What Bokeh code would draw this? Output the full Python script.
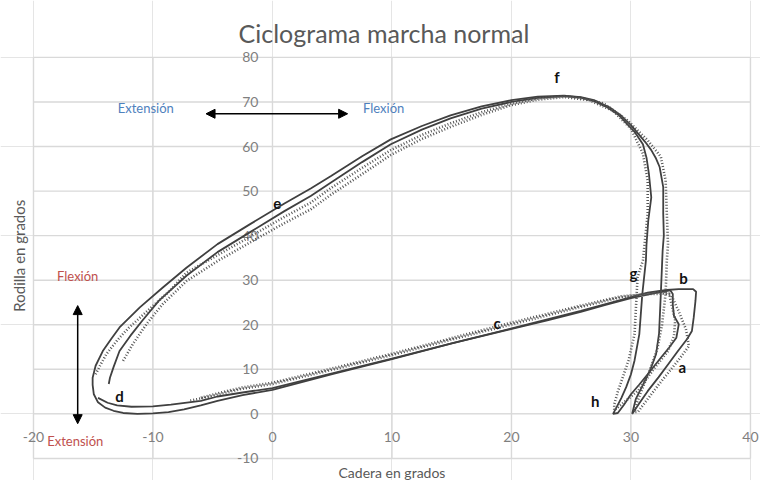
import math
from bokeh.plotting import figure
from bokeh.models import Arrow, NormalHead
from bokeh.core.properties import value
from bokeh.embed import file_html
from bokeh.resources import INLINE

# ---------------- data ----------------
title_text = "Ciclograma marcha normal"
x_label = "Cadera en grados"
y_label = "Rodilla en grados"

x_ticks = [-20, -10, 0, 10, 20, 30, 40]
y_ticks = [-10, 0, 10, 20, 30, 40, 50, 60, 70, 80]
x_tick_labels = ["-20", "-10", "0", "10", "20", "30", "40"]
y_tick_labels = ["-10", "0", "10", "20", "30", "40", "50", "60", "70", "80"]

# solid cycle 1 (outer)
cycle1_hip = [30.1, 30.7, 31.4, 32.3, 33.1, 33.9, 34.7, 35.1, 35.25, 35.4, 35.45, 35.2, 34.0, 33.0, 31.4,
              30.0, 27.8, 25.8, 23.0, 20.2, 15.0, 10.0, 5.0, 0.0, -2.5, -4.6, -6.0, -7.4, -8.7, -10.0,
              -11.3, -12.5, -13.3, -14.0, -14.6, -14.95, -15.05, -15.05, -14.8, -14.2, -13.5, -12.8,
              -11.1, -9.2, -7.2, -4.6, -1.8, 1.0, 3.2, 4.9, 7.5, 9.9, 12.5, 14.9, 17.5, 20.0, 22.2,
              24.4, 25.8, 26.9, 28.2, 29.2, 30.0, 30.6, 31.2, 31.7, 32.1, 32.4, 32.7, 32.7, 32.75,
              32.65, 32.5, 32.35, 32.1, 31.6, 31.0, 30.4, 30.1]
cycle1_knee = [0.0, 2.4, 5.1, 8.2, 11.1, 14.0, 16.8, 18.6, 21.6, 25.4, 27.4, 28.0, 28.0, 27.8, 27.2,
               26.2, 24.6, 23.1, 21.2, 19.3, 15.8, 12.3, 8.9, 5.4, 4.2, 2.9, 1.9, 1.0, 0.4, 0.1,
               0.0, 0.2, 0.7, 1.4, 2.6, 4.4, 6.5, 8.1, 10.8, 14.1, 16.8, 19.4,
               23.9, 28.3, 32.8, 38.1, 42.7, 47.2, 50.6, 53.4, 57.8, 61.6, 64.6, 67.0, 69.0, 70.4, 71.2,
               71.4, 71.1, 70.4, 68.8, 66.9, 64.8, 62.9, 61.0, 59.2, 57.3, 55.4, 50.9, 44.9, 40.0,
               36.6, 27.0, 18.0, 13.4, 9.8, 6.5, 3.3, 0.0]

# solid cycle 2 (inner)
cycle2_hip = [-13.7, -13.6, -13.3, -12.8, -11.9, -10.9, -9.5, -7.2, -4.6, -1.8, 1.0, 3.2, 4.9, 7.5, 9.9,
              12.5, 14.9, 17.5, 20.0, 22.2, 24.4, 25.8, 26.9, 28.0, 29.0, 30.3, 31.0, 31.3, 31.5, 31.7,
              31.45, 31.3, 31.25, 30.95, 30.7, 30.3, 30.0, 29.6, 29.2, 28.8, 28.5, 28.9, 29.4, 30.0,
              30.7, 31.4, 32.5, 33.2, 33.8, 34.0, 33.6, 33.5, 33.5, 33.3, 32.0, 30.0, 27.8, 25.8, 23.0,
              20.2, 15.0, 10.0, 5.0, 0.0, -2.5, -4.6, -6.0, -8.5, -10.0, -11.8, -13.0, -13.8, -14.6]
cycle2_knee = [6.7, 8.1, 10.5, 14.1, 17.5, 20.9, 25.4, 31.0, 36.3, 40.9, 45.5, 48.9, 51.9, 56.5, 60.5,
               63.8, 66.3, 68.5, 70.0, 70.9, 71.3, 71.0, 70.2, 68.8, 67.0, 63.3, 60.5, 57.5, 53.9, 48.6,
               43.4, 38.0, 34.4, 26.9, 17.9, 12.0, 8.9, 6.0, 3.6, 1.5, 0.0, 0.2, 2.0, 4.4,
               6.6, 8.9, 12.6, 14.9, 17.1, 20.1, 22.0, 24.5, 26.9, 27.7, 27.1, 26.0, 24.4, 22.9, 21.0,
               19.2, 15.8, 12.4, 9.1, 5.8, 4.8, 3.9, 2.9, 2.1, 1.7, 1.6, 1.9, 2.5, 3.6]

# dotted cycle 3
cycle3_hip = [-14.8, -14.4, -13.9, -13.0, -12.0, -10.0, -8.6, -7.2, -4.6, -1.8, 1.0, 3.2, 4.9, 7.5, 9.9,
              12.5, 14.9, 17.5, 20.0, 22.2, 24.5, 26.0, 27.7, 29.7, 31.4, 32.5, 32.9, 33.0, 33.1, 33.0,
              32.9, 32.6, 32.2, 31.6, 31.0, 30.5, 30.3, 30.6, 31.3, 32.3, 33.2, 34.1, 34.85, 34.6, 34.0,
              33.4, 32.5, 29.2, 25.8, 20.2, 15.0, 10.0, 5.0, 0.0, -2.6, -5.1, -7.0]
cycle3_knee = [8.9, 11.0, 13.4, 16.5, 19.4, 24.2, 27.6, 31.7, 35.6, 39.9, 44.2, 47.4, 50.7, 55.2, 59.2,
               62.6, 65.2, 67.7, 69.6, 70.8, 71.3, 70.8, 69.7, 65.9, 61.4, 57.7, 52.4, 45.0, 38.0, 34.4,
               27.0, 20.0, 14.5, 10.0, 6.0, 2.5, 0.4, 0.5, 3.0, 6.5, 9.5, 12.5, 15.2, 19.0, 23.0,
               26.5, 27.4, 26.2, 24.0, 20.2, 16.7, 13.2, 9.9, 6.7, 5.6, 4.0, 2.9]

# dotted cycle 4
cycle4_hip = [-12.5, -11.7, -10.5, -9.2, -7.2, -4.6, -1.8, 1.0, 3.2, 4.9, 7.5, 9.9, 12.5, 14.9, 17.5,
              20.0, 22.2, 24.4, 26.5, 28.5, 30.0, 31.0, 31.4, 31.4, 31.0, 30.55, 30.3, 29.8, 29.4, 28.9,
              28.6, 28.6, 29.5, 30.6, 32.0, 33.1, 33.6, 33.7, 33.4, 33.2, 31.5, 29.2, 25.8, 20.2, 15.0,
              10.0, 5.0, 0.0, -2.6, -4.6, -6.0]
cycle4_knee = [11.9, 15.6, 20.3, 24.6, 29.8, 34.3, 38.6, 42.8, 45.9, 49.2, 53.8, 58.1, 61.7, 64.4, 67.1,
               69.3, 70.5, 71.1, 70.4, 68.0, 64.0, 58.4, 52.4, 45.0, 34.4, 30.6, 17.9, 12.0, 8.9, 5.0,
               2.1, 0.8, 2.8, 5.2, 10.4, 14.1, 17.5, 21.0, 24.5, 27.0, 26.9, 26.4, 24.3, 20.6, 17.0,
               13.5, 10.2, 7.0, 5.9, 4.6, 3.6]

# phase letters
phase_labels = ["a", "b", "c", "d", "e", "f", "g", "h"]
phase_hip = [34.3, 34.4, 18.8, -12.8, 0.4, 23.8, 30.2, 27.0]
phase_knee = [10.6, 30.4, 20.5, 4.1, 47.2, 75.5, 31.7, 2.8]

# direction annotations
hip_dir_labels = ["Extensión", "Flexión"]
hip_dir_x = [-10.6, 9.3]
hip_dir_y = [68.6, 68.6]
hip_arrow = (-5.56, 6.29, 67.35)          # x_start, x_end, y
knee_dir_labels = ["Flexión", "Extensión"]
knee_dir_x = [-16.3, -16.5]
knee_dir_y = [31.0, -6.0]
knee_arrow = (-16.3, 24.3, -2.2)           # x, y_start, y_end

# ---------------- figure ----------------
W, H = 760, 480
p = figure(width=W, height=H, x_range=(-22.76, 40.84), y_range=(-14.95, 92.77),
           output_backend="svg", toolbar_location=None, title=None,
           x_axis_location=None, y_axis_location=None, min_border=0)
p.outline_line_color = None
p.background_fill_color = "white"
p.border_fill_color = "white"

FONT = "Lato"
GRID = "#d9d9d9"
TICKC = "#7f7f7f"
TEXTC = "#595959"

xmin, xmax = min(x_ticks), max(x_ticks)
ymin, ymax = min(y_ticks), max(y_ticks)
p.segment(x0=x_ticks, y0=[ymin] * len(x_ticks), x1=x_ticks, y1=[ymax] * len(x_ticks),
          line_color=GRID, line_width=1.4)
p.segment(x0=[xmin] * len(y_ticks), y0=y_ticks, x1=[xmax] * len(y_ticks), y1=y_ticks,
          line_color=GRID, line_width=1.4)

# tick labels placed along the centred axes (x = 0 and y = 0)
p.text(x=[0] * len(y_ticks), y=y_ticks, text=y_tick_labels, text_align="right",
       text_baseline="middle", x_offset=-14, text_font=value(FONT),
       text_font_size="14px", text_color=TICKC)
p.text(x=x_ticks, y=[0] * len(x_ticks), text=x_tick_labels, text_align="center",
       text_baseline="middle", y_offset=23, text_font=value(FONT),
       text_font_size="14px", text_color=TICKC)

# curves
SOLID = "#404040"
p.line(cycle1_hip, cycle1_knee, line_color=SOLID, line_width=1.8)
p.line(cycle2_hip, cycle2_knee, line_color=SOLID, line_width=1.8)
p.line(cycle3_hip, cycle3_knee, line_color="#555555", line_width=2.6, line_dash="1 2")
p.line(cycle4_hip, cycle4_knee, line_color="#555555", line_width=2.6, line_dash="1 2")

# phase letters
p.text(x=phase_hip, y=phase_knee, text=phase_labels, text_align="center",
       text_baseline="middle", text_font=value(FONT), text_font_size="15px",
       text_font_style="bold", text_color="#111111")

# direction texts
p.text(x=hip_dir_x, y=hip_dir_y, text=hip_dir_labels, text_align="center",
       text_baseline="middle", text_font=value(FONT), text_font_size="13px",
       text_color="#4f81bd")
p.text(x=knee_dir_x, y=knee_dir_y, text=knee_dir_labels, text_align="center",
       text_baseline="middle", text_font=value(FONT), text_font_size="13px",
       text_color="#c0504d")

p.add_layout(Arrow(x_start=hip_arrow[0], x_end=hip_arrow[1], y_start=hip_arrow[2], y_end=hip_arrow[2],
                   line_color="black", line_width=1.5,
                   start=NormalHead(size=9, fill_color="black", line_color="black"),
                   end=NormalHead(size=9, fill_color="black", line_color="black")))
p.add_layout(Arrow(x_start=knee_arrow[0], x_end=knee_arrow[0], y_start=knee_arrow[1], y_end=knee_arrow[2],
                   line_color="black", line_width=1.5,
                   start=NormalHead(size=9, fill_color="black", line_color="black"),
                   end=NormalHead(size=9, fill_color="black", line_color="black")))

# title and axis titles
p.text(x=[9.33], y=[85.4], text=[title_text], text_align="center", text_baseline="alphabetic",
       text_font=value(FONT), text_font_size="25px", text_color=TEXTC)
p.text(x=[10.0], y=[-13.1], text=[x_label], text_align="center", text_baseline="alphabetic",
       text_font=value(FONT), text_font_size="14px", text_color=TEXTC)
p.text(x=[-21.2], y=[35.5], text=[y_label], text_align="center", text_baseline="middle",
       angle=math.pi / 2, text_font=value(FONT), text_font_size="15px", text_color=TEXTC)

open("out.html", "w").write(file_html(p, INLINE))
